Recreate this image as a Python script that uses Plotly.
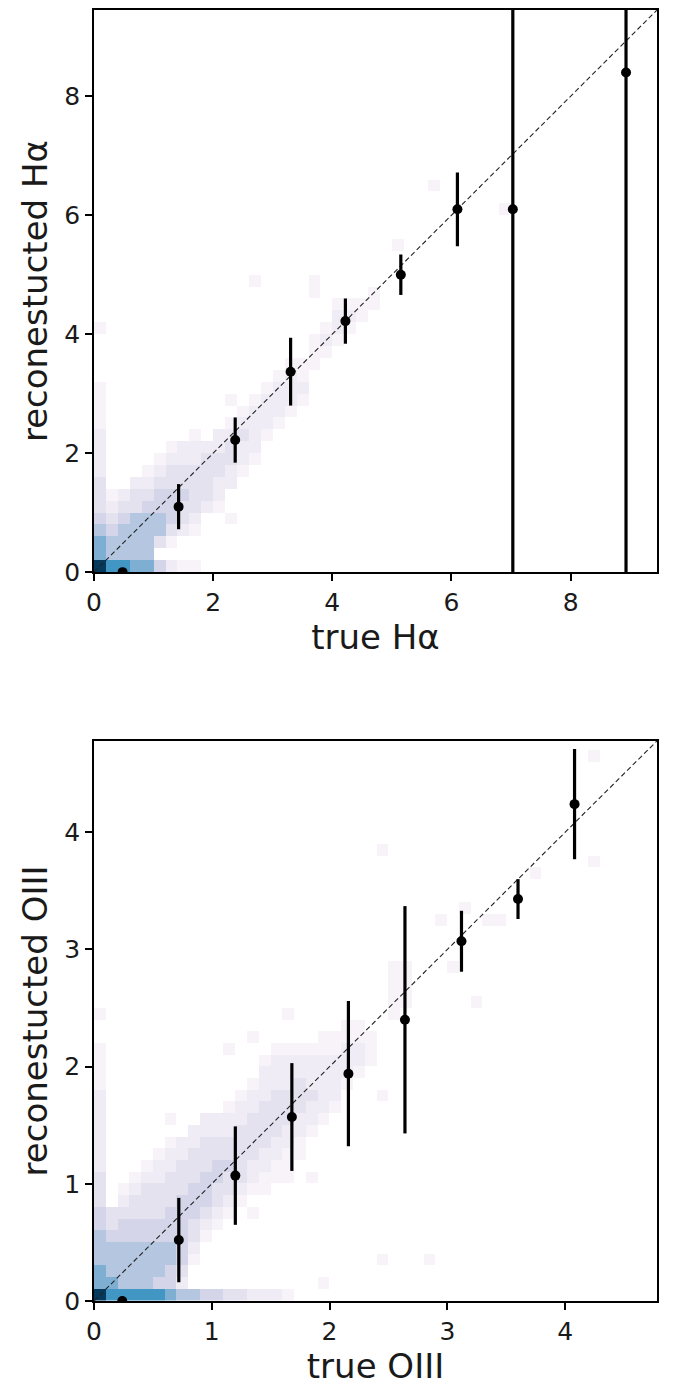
import numpy as np
import plotly.graph_objects as go

# ---------------- data ----------------
# Top panel (H-alpha): binned medians with scatter
ha_true = [0.48, 1.42, 2.37, 3.30, 4.22, 5.15, 6.10, 7.03, 8.93]
ha_reco = [0.00, 1.10, 2.22, 3.37, 4.22, 5.00, 6.10, 6.10, 8.40]
ha_err = [0.00, 0.38, 0.38, 0.57, 0.38, 0.34, 0.62, 12.0, 12.0]

# Bottom panel (OIII)
o3_true = [0.24, 0.72, 1.20, 1.68, 2.16, 2.64, 3.12, 3.60, 4.08]
o3_reco = [0.00, 0.52, 1.07, 1.57, 1.94, 2.40, 3.07, 3.43, 4.24]
o3_err = [0.00, 0.36, 0.42, 0.46, 0.62, 0.97, 0.26, 0.17, 0.47]

# 2D histogram density levels (0 = empty, 9 = densest), per x-bin column:
# column index -> (first y-bin index, levels going upward)
ha_cols = {
    0: (0, "966543332222111100001"),
    1: (0, "7554321"),
    2: (0, "7555432"),
    3: (0, "65555332"),
    4: (0, "655554321"),
    5: (0, "4035544321"),
    6: (0, "20134443321"),
    7: (0, "10023343322"),
    8: (0, "100123333221"),
    9: (5, "233332"),
    10: (6, "223322"),
    11: (7, "223321"),
    12: (8, "122321"),
    13: (9, "122221"),
    14: (11, "12221"),
    15: (12, "12221"),
    16: (13, "12221"),
    17: (14, "1211"),
    18: (17, "111"),
    19: (18, "121"),
    20: (19, "1221"),
    21: (20, "121"),
    22: (21, "11"),
    23: (22, "11"),
}
ha_isolated_x = [2.2, 1.6, 2.6, 3.6, 3.6, 4.5, 4.8, 5.0, 5.75, 6.9, 2.38, 1.7, 2.0]
ha_isolated_y = [0.85, 0.05, 4.95, 4.98, 4.78, 4.3, 4.7, 5.4, 6.5, 6.1, 2.95, 1.3, 1.05]

o3_cols = {
    0: (0, "9665554433322222221111001"),
    1: (0, "76555433"),
    2: (0, "7555544321"),
    3: (0, "75555443321"),
    4: (0, "755554433321"),
    5: (0, "7455544333221"),
    6: (0, "64455444333221"),
    7: (0, "52344444433322"),
    8: (0, "500123344433322"),
    9: (0, "4000012344433322"),
    10: (0, "4000001233443322"),
    11: (0, "30000001233433221"),
    12: (0, "300000001233333221"),
    13: (0, "2000000001223333221"),
    14: (0, "200000000112233332221"),
    15: (0, "2000000000112233332221"),
    16: (0, "1000000000011223332221"),
    17: (12, "1122333221"),
    18: (14, "12232221"),
    19: (15, "12222211"),
    20: (16, "1222211"),
    21: (18, "122211"),
    22: (19, "12211"),
    23: (20, "111"),
    25: (24, "11111"),
    26: (25, "1111"),
}
o3_isolated_x = [2.45, 2.45, 2.45, 2.82, 1.95, 1.4, 1.6, 1.4, 1.2, 0.62, 1.6, 1.85,
                 3.2, 2.95, 3.0, 3.35, 3.45, 3.15, 3.8, 4.3, 4.3, 2.35, 1.95, 2.1]
o3_isolated_y = [3.88, 1.78, 0.35, 0.35, 0.15, 0.75, 2.45, 2.25, 2.15, 1.5, 1.0, 1.0,
                 2.55, 3.2, 2.85, 3.3, 3.3, 3.35, 3.6, 3.7, 4.65, 2.05, 2.25, 2.28]

HA_MAX = 9.45
O3_MAX = 4.78
HA_BIN = 0.2
O3_BIN = 0.1
NBINS = 48

# PuBu-like scale, stretched so that low density levels stay very pale
LEVEL_COLORS = ["rgb(255,255,255)", "rgb(248,243,249)", "rgb(240,236,245)", "rgb(229,226,240)",
                "rgb(212,213,232)", "rgb(180,198,224)", "rgb(126,174,210)", "rgb(66,150,196)",
                "rgb(12,110,170)", "rgb(6,58,92)"]
SCALE = [[i / 9, c] for i, c in enumerate(LEVEL_COLORS)]


def build_grid(cols, iso_x, iso_y, bw):
    z = np.full((NBINS, NBINS), np.nan)
    for ix, (start, s) in cols.items():
        for k, ch in enumerate(s):
            v = int(ch)
            if v > 0:
                z[start + k, ix] = v
    for x, y in zip(iso_x, iso_y):
        ix, iy = int(x / bw), int(y / bw)
        if np.isnan(z[iy, ix]):
            z[iy, ix] = 1
    return z


z_ha = build_grid(ha_cols, ha_isolated_x, ha_isolated_y, HA_BIN)
z_o3 = build_grid(o3_cols, o3_isolated_x, o3_isolated_y, O3_BIN)

fig = go.Figure()

for z, bw, xa, ya in [(z_ha, HA_BIN, "x", "y"), (z_o3, O3_BIN, "x2", "y2")]:
    fig.add_trace(go.Heatmap(z=z, x0=bw / 2, dx=bw, y0=bw / 2, dy=bw,
                             colorscale=SCALE, zmin=0, zmax=9, showscale=False,
                             hoverinfo="skip", xaxis=xa, yaxis=ya))

for m, xa, ya in [(HA_MAX, "x", "y"), (O3_MAX, "x2", "y2")]:
    fig.add_trace(go.Scatter(x=[0, m], y=[0, m], mode="lines",
                             line=dict(color="#222222", width=1.1, dash="5px,3px"),
                             xaxis=xa, yaxis=ya, showlegend=False))

for tx, ry, er, xa, ya in [(ha_true, ha_reco, ha_err, "x", "y"),
                           (o3_true, o3_reco, o3_err, "x2", "y2")]:
    fig.add_trace(go.Scatter(x=tx, y=ry, mode="markers",
                             marker=dict(color="black", size=10),
                             error_y=dict(type="data", array=er, thickness=3.2, width=0, color="black"),
                             xaxis=xa, yaxis=ya, showlegend=False))

FONT = "DejaVu Sans"
TICKF = dict(family=FONT, size=25, color="#1a1a1a")
TITLEF = dict(family=FONT, size=34, color="#1a1a1a")

ax_common = dict(showgrid=False, zeroline=False, ticks="outside", ticklen=7, tickwidth=1.5,
                 tickcolor="black", showline=True, linecolor="black", linewidth=1.5,
                 mirror=True, tickfont=TICKF)

H = 1391
top_px, top_bot = 8, 571
bot_top, bot_bot = 740, 1301
plot_h = bot_bot - top_px

fig.update_layout(
    width=676, height=H,
    margin=dict(l=94, r=676 - 657, t=top_px, b=H - bot_bot),
    paper_bgcolor="white", plot_bgcolor="white",
    showlegend=False,
    xaxis=dict(ax_common, domain=[0, 1], range=[0, HA_MAX], anchor="y",
               tickvals=[0, 2, 4, 6, 8],
               title=dict(text="true Hα", font=TITLEF, standoff=6)),
    yaxis=dict(ax_common, domain=[(bot_bot - top_bot) / plot_h, 1], range=[0, HA_MAX], anchor="x",
               tickvals=[0, 2, 4, 6, 8],
               title=dict(text="reconestucted Hα", font=TITLEF, standoff=6)),
    xaxis2=dict(ax_common, domain=[0, 1], range=[0, O3_MAX], anchor="y2",
                tickvals=[0, 1, 2, 3, 4],
                title=dict(text="true OIII", font=TITLEF, standoff=6)),
    yaxis2=dict(ax_common, domain=[0, (bot_bot - bot_top) / plot_h], range=[0, O3_MAX], anchor="x2",
                tickvals=[0, 1, 2, 3, 4],
                title=dict(text="reconestucted OIII", font=TITLEF, standoff=6)),
)

fig.write_html("out.html")
